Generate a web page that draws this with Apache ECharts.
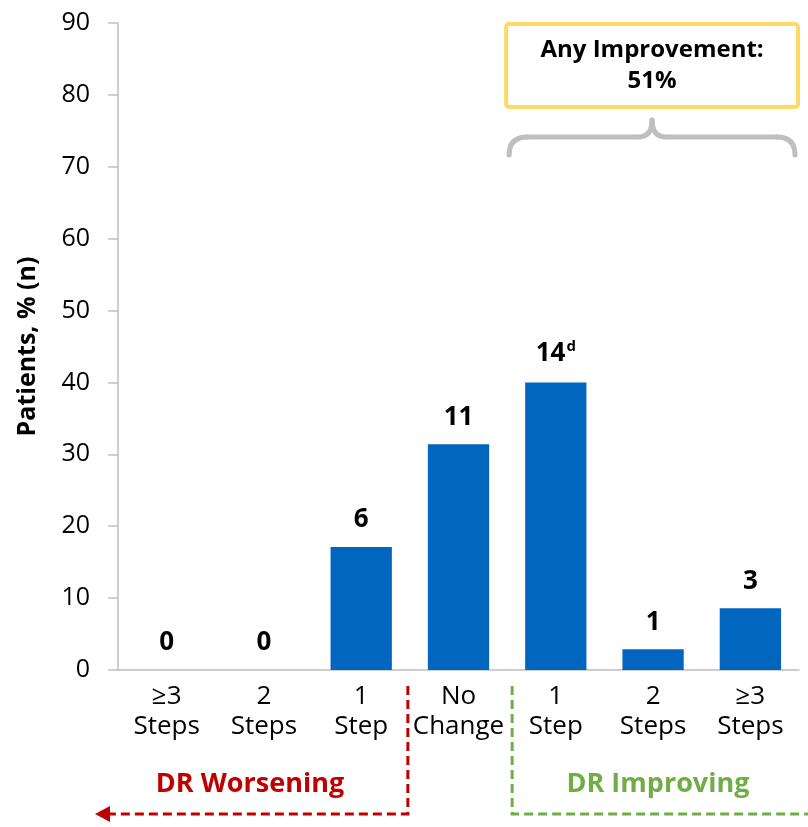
<!DOCTYPE html>
<html>
<head>
<meta charset="utf-8">
<script src="https://cdn.jsdelivr.net/npm/echarts@6/dist/echarts.min.js"></script>
<style>
  html, body { margin: 0; padding: 0; background: #fff; }
  #chart { width: 808px; height: 827px; }
</style>
</head>
<body>
<div id="chart"></div>
<script>
// data
const categories = ['≥3\nSteps', '2\nSteps', '1\nStep', 'No\nChange', '1\nStep', '2\nSteps', '≥3\nSteps'];
const percents = [0, 0, 17.1, 31.4, 40, 2.9, 8.6];
const counts = ['0', '0', '6', '11', '14', '1', '3'];
const notes = ['', '', '', '', 'd', '', ''];
const yTicks = [0, 90, 10]; // min, max, interval

const fontName = '"Open Sans", "Liberation Sans", sans-serif';

let elem = document.getElementById('chart');
let myChart = echarts.init(elem);

myChart.setOption({
    animation: false,
    grid: { left: 118, right: 9, top: 23, bottom: 157 },
    xAxis: {
        type: 'category',
        data: categories,
        axisLine: { lineStyle: { color: '#bfbfbf', width: 1.5 } },
        axisTick: { length: 12, lineStyle: { color: '#bfbfbf', width: 1.5 } },
        axisLabel: {
            color: '#000',
            fontSize: 26,
            fontFamily: fontName,
            lineHeight: 30,
            margin: 12,
            interval: 0
        }
    },
    yAxis: {
        type: 'value',
        min: yTicks[0],
        max: yTicks[1],
        interval: yTicks[2],
        name: 'Patients, % (n)',
        nameLocation: 'middle',
        nameRotate: 90,
        nameGap: 78,
        nameTextStyle: { color: '#000', fontSize: 25, fontWeight: 'bold', fontFamily: fontName },
        axisLine: { show: true, lineStyle: { color: '#bfbfbf', width: 1.5 } },
        axisTick: { show: true, length: 10, lineStyle: { color: '#bfbfbf', width: 1.5 } },
        splitLine: { show: false },
        axisLabel: { color: '#000', fontSize: 25, fontFamily: fontName, margin: 28 }
    },
    series: [{
        type: 'bar',
        data: percents,
        barWidth: '63%',
        itemStyle: { color: '#0066c0' },
        label: {
            show: true,
            position: 'top',
            distance: 14,
            formatter: function (p) {
                let s = '{v|' + counts[p.dataIndex] + '}';
                if (notes[p.dataIndex]) s += '{sup|' + notes[p.dataIndex] + '}';
                return s;
            },
            rich: {
                v: { fontSize: 26, fontWeight: 'bold', color: '#000', fontFamily: fontName },
                sup: { fontSize: 15, fontWeight: 'bold', color: '#000', fontFamily: fontName, verticalAlign: 'top', padding: [0, 0, 14, 1] }
            }
        }
    }]
});

// annotations around the categories
function drawNotes() {
    let x0 = myChart.convertToPixel({ xAxisIndex: 0 }, 0);
    let x1 = myChart.convertToPixel({ xAxisIndex: 0 }, 1);
    let band = x1 - x0;
    let redX = myChart.convertToPixel({ xAxisIndex: 0 }, 2) + band / 2 - 2;
    let greenX = myChart.convertToPixel({ xAxisIndex: 0 }, 4) - band / 2 + 5;
    let boxL = myChart.convertToPixel({ xAxisIndex: 0 }, 4) - band / 2 - 3;
    let boxR = myChart.convertToPixel({ xAxisIndex: 0 }, 6) + band / 2 + 1;
    let mid = (boxL + boxR) / 2;
    let dash = { lineDash: [9, 5] };
    let brace = { stroke: '#bfbfbf', lineWidth: 5, fill: null, lineCap: 'round' };
    let bL = boxL + 5, bR = boxR - 5, bTop = 120, bY = 137, bBot = 155;

    myChart.setOption({
        graphic: [
            // red: worsening
            { type: 'polyline', shape: { points: [[redX, 686], [redX, 814], [108, 814]] },
              style: Object.assign({ stroke: '#c00000', lineWidth: 3, fill: null }, dash) },
            { type: 'polygon', shape: { points: [[95, 814], [110, 806], [110, 822]] },
              style: { fill: '#c00000' } },
            { type: 'text', x: 250, y: 784,
              style: { text: 'DR Worsening', fill: '#c00000', font: 'bold 27px ' + fontName, align: 'center', verticalAlign: 'middle' } },
            // green: improving
            { type: 'polyline', shape: { points: [[greenX, 686], [greenX, 814], [808, 814]] },
              style: Object.assign({ stroke: '#70ad47', lineWidth: 3, fill: null }, dash) },
            { type: 'text', x: 658, y: 784,
              style: { text: 'DR Improving', fill: '#70ad47', font: 'bold 27px ' + fontName, align: 'center', verticalAlign: 'middle' } },
            // yellow box
            { type: 'rect', shape: { x: boxL + 2, y: 24, width: boxR - boxL - 4, height: 83, r: 3 },
              style: { stroke: '#ffd966', lineWidth: 4, fill: '#fff' } },
            { type: 'text', x: mid, y: 50,
              style: { text: 'Any Improvement:', fill: '#000', font: 'bold 24px ' + fontName, align: 'center', verticalAlign: 'middle' } },
            { type: 'text', x: mid, y: 81,
              style: { text: '51%', fill: '#000', font: 'bold 24px ' + fontName, align: 'center', verticalAlign: 'middle' } },
            // brace
            { type: 'bezierCurve', shape: { x1: bL, y1: bBot, cpx1: bL, cpy1: bY, x2: bL + 18, y2: bY }, style: brace },
            { type: 'line', shape: { x1: bL + 18, y1: bY, x2: mid - 14, y2: bY }, style: brace },
            { type: 'bezierCurve', shape: { x1: mid - 14, y1: bY, cpx1: mid, cpy1: bY, x2: mid, y2: bTop }, style: brace },
            { type: 'bezierCurve', shape: { x1: mid, y1: bTop, cpx1: mid, cpy1: bY, x2: mid + 14, y2: bY }, style: brace },
            { type: 'line', shape: { x1: mid + 14, y1: bY, x2: bR - 18, y2: bY }, style: brace },
            { type: 'bezierCurve', shape: { x1: bR - 18, y1: bY, cpx1: bR, cpy1: bY, x2: bR, y2: bBot }, style: brace }
        ]
    });
}
drawNotes();
</script>
</body>
</html>
